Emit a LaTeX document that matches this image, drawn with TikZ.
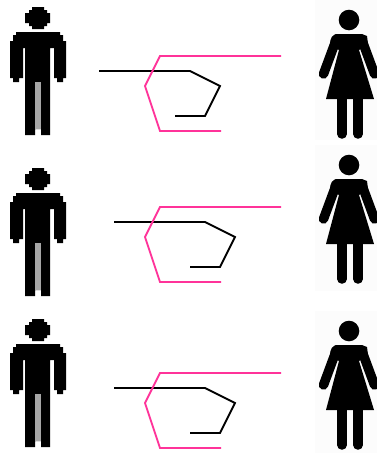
\documentclass[tikz,border=0pt]{standalone}
\definecolor{wirepink}{RGB}{255,51,153}
\tikzset{
man/.pic={
\fill[black] (32,7)--(44,7)--(44,10)--(47,10)--(47,13)--(50,13)--(50,23)--(47,23)--(47,26)--(44,26)--(44,29)--(32,29)--(32,26)--(29,26)--(29,23)--(25,23)--(25,13)--(29,13)--(29,10)--(32,10)--cycle;
\fill[black] (16,32)--(60,32)--(60,35)--(63,35)--(63,41)--(66,41)--(66,78)--(63,78)--(63,82)--(57,82)--(57,78)--(54,78)--(54,48)--(50,48)--(50,135)--(41,135)--(41,129)--(35,129)--(35,135)--(25,135)--(25,48)--(23,48)--(23,78)--(19,78)--(19,82)--(13,82)--(13,78)--(10,78)--(10,41)--(13,41)--(13,35)--(16,35)--cycle;
\fill[black!35] (35,82) rectangle (41,129);
},
woman/.pic={
\fill[black] (349,20) circle (10.3);
\fill[black] (336,34) to[rounded corners=4pt] (331,36)--(330,44)--(339,50)--(326,99)--(374,99)--(359,50)--(368,44)--(367,36)--(362,34)--cycle;
\draw[limb] (335,43)--(323.5,74);
\draw[limb] (363,43)--(374.5,74);
\draw[limb] (342,95)--(342,134);
\draw[limb] (358,95)--(358,134);
}}
\begin{document}
\begin{tikzpicture}[x=1pt,y=-1pt,limb/.style={draw=black,line width=9.5pt,line cap=round},black wire/.style={draw=black,line width=1.8pt},pink wire/.style={draw=wirepink,line width=1.8pt}]
\useasboundingbox (0,0) rectangle (377,453);
\fill[black!1] (315,0) rectangle (377,140);
\fill[black!1] (315,145) rectangle (377,291);
\fill[black!1] (315,311) rectangle (377,453);
\pic at (0,0) {man};
\pic at (0,161) {man};
\pic at (0,312) {man};
\pic at (0,0) {woman};
\pic at (0,145) {woman};
\pic at (0,311) {woman};
% top pair
\draw[black wire] (99,71)--(190,71)--(220,86)--(205,116)--(175,116);
\draw[pink wire] (281,56)--(160,56)--(145,86)--(160,131)--(221,131);
% middle pair
\draw[black wire] (114,222)--(205,222)--(235,237)--(220,267)--(190,267);
\draw[pink wire] (281,207)--(160,207)--(145,237)--(160,282)--(221,282);
% bottom pair
\draw[black wire] (114,388)--(205,388)--(235,403)--(220,433)--(190,433);
\draw[pink wire] (281,373)--(160,373)--(145,403)--(160,448)--(221,448);
\end{tikzpicture}
\end{document}
